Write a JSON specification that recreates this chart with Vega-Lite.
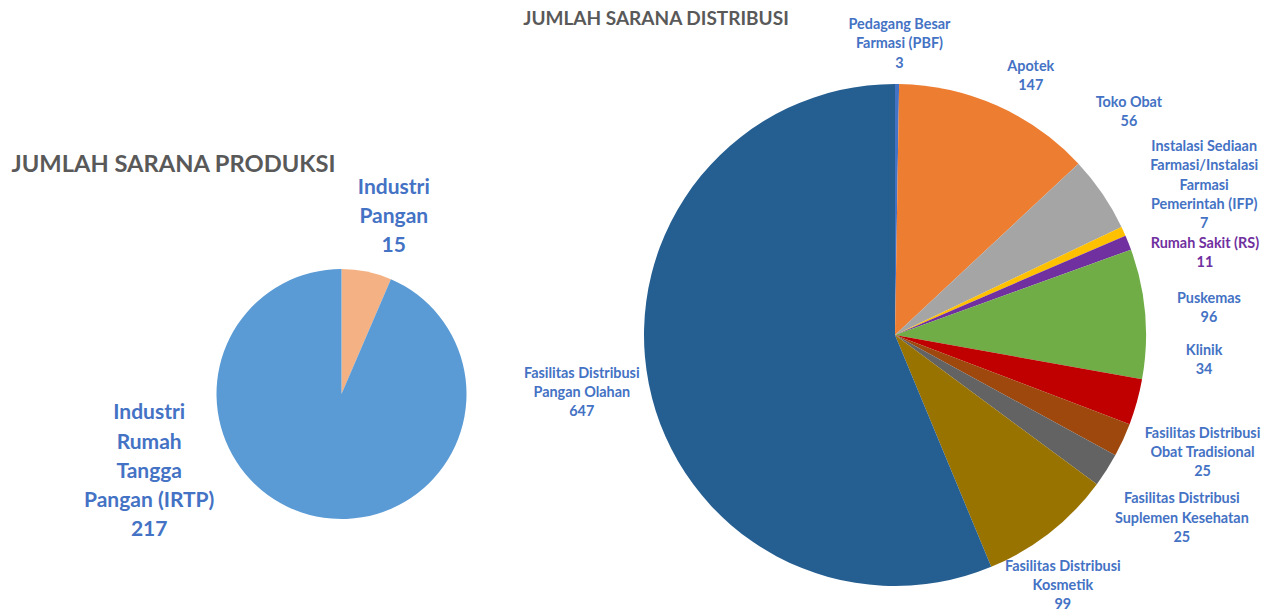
{
  "$schema": "https://vega.github.io/schema/vega-lite/v6.json",
  "width": 1269,
  "height": 614,
  "padding": 0,
  "autosize": {"type": "fit", "contains": "padding"},
  "background": "white",
  "config": {"view": {"stroke": null}},
  "datasets": {
    "distribusi": [
      {"grup": "Distribusi", "urut": 1, "nama": "Pedagang Besar Farmasi (PBF)", "label": "Pedagang Besar\nFarmasi (PBF)\n3", "jumlah": 3},
      {"grup": "Distribusi", "urut": 2, "nama": "Apotek", "label": "Apotek\n147", "jumlah": 147},
      {"grup": "Distribusi", "urut": 3, "nama": "Toko Obat", "label": "Toko Obat\n56", "jumlah": 56},
      {"grup": "Distribusi", "urut": 4, "nama": "Instalasi Sediaan Farmasi/Instalasi Farmasi Pemerintah (IFP)", "label": "Instalasi Sediaan\nFarmasi/Instalasi\nFarmasi\nPemerintah (IFP)\n7", "jumlah": 7},
      {"grup": "Distribusi", "urut": 5, "nama": "Rumah Sakit (RS)", "label": "Rumah Sakit (RS)\n11", "jumlah": 11},
      {"grup": "Distribusi", "urut": 6, "nama": "Puskemas", "label": "Puskemas\n96", "jumlah": 96},
      {"grup": "Distribusi", "urut": 7, "nama": "Klinik", "label": "Klinik\n34", "jumlah": 34},
      {"grup": "Distribusi", "urut": 8, "nama": "Fasilitas Distribusi Obat Tradisional", "label": "Fasilitas Distribusi\nObat Tradisional\n25", "jumlah": 25},
      {"grup": "Distribusi", "urut": 9, "nama": "Fasilitas Distribusi Suplemen Kesehatan", "label": "Fasilitas Distribusi\nSuplemen Kesehatan\n25", "jumlah": 25},
      {"grup": "Distribusi", "urut": 10, "nama": "Fasilitas Distribusi Kosmetik", "label": "Fasilitas Distribusi\nKosmetik\n99", "jumlah": 99},
      {"grup": "Distribusi", "urut": 11, "nama": "Fasilitas Distribusi Pangan Olahan", "label": "Fasilitas Distribusi\nPangan Olahan\n647", "jumlah": 647}
    ],
    "produksi": [
      {"grup": "Produksi", "urut": 1, "nama": "Industri Pangan", "label": "Industri\nPangan\n15", "jumlah": 15},
      {"grup": "Produksi", "urut": 2, "nama": "Industri Rumah Tangga Pangan (IRTP)", "label": "Industri\nRumah\nTangga\nPangan (IRTP)\n217", "jumlah": 217}
    ],
    "judul": [
      {"grup": "Produksi", "judul": "JUMLAH SARANA PRODUKSI"},
      {"grup": "Distribusi", "judul": "JUMLAH SARANA DISTRIBUSI"}
    ]
  },
  "layer": [
    {
      "data": {"name": "distribusi"},
      "encoding": {
        "x": {"field": "grup", "type": "nominal", "scale": {"type": "point", "domain": ["Produksi", "Distribusi"], "range": [341.5, 895], "padding": 0}, "axis": null},
        "y": {"field": "grup", "type": "nominal", "scale": {"type": "point", "domain": ["Produksi", "Distribusi"], "range": [394, 335], "padding": 0}, "axis": null}
      },
      "layer": [
        {
          "mark": {"type": "arc", "outerRadius": 251},
          "encoding": {
            "theta": {"field": "jumlah", "type": "quantitative", "stack": true, "scale": {"domain": [0, 1150]}},
            "order": {"field": "urut", "type": "quantitative", "sort": "ascending"},
            "color": {
              "field": "nama", "type": "nominal", "legend": null,
              "scale": {
                "domain": ["Pedagang Besar Farmasi (PBF)", "Apotek", "Toko Obat", "Instalasi Sediaan Farmasi/Instalasi Farmasi Pemerintah (IFP)", "Rumah Sakit (RS)", "Puskemas", "Klinik", "Fasilitas Distribusi Obat Tradisional", "Fasilitas Distribusi Suplemen Kesehatan", "Fasilitas Distribusi Kosmetik", "Fasilitas Distribusi Pangan Olahan"],
                "range": ["#4472C4", "#ED7D31", "#A5A5A5", "#FFC000", "#7030A0", "#70AD47", "#C00000", "#9E480E", "#636363", "#997300", "#255E91"]
              }
            }
          }
        },
        {
          "transform": [
            {"stack": "jumlah", "groupby": ["grup"], "sort": [{"field": "urut", "order": "ascending"}], "as": ["s0", "s1"]},
            {"fold": ["s0", "s1"], "as": ["ujung", "sudut"]},
            {"aggregate": [{"op": "mean", "field": "sudut", "as": "tengah"}], "groupby": ["grup", "urut", "nama", "label"]}
          ],
          "encoding": {
            "theta": {"field": "tengah", "type": "quantitative", "scale": {"domain": [0, 1150]}},
            "text": {"field": "label", "type": "nominal"}
          },
          "layer": [
            {"transform": [{"filter": {"field": "urut", "equal": 1}}], "mark": {"type": "text", "radius": 300, "dx": 2, "dy": -10, "lineBreak": "\n", "lineHeight": 19.3, "font": "Lato", "fontSize": 14.4, "fontWeight": "bold", "color": "#4472C4", "align": "center", "baseline": "middle"}},
            {"transform": [{"filter": {"field": "urut", "equal": 2}}], "mark": {"type": "text", "radius": 300, "dx": 14, "dy": 6, "lineBreak": "\n", "lineHeight": 19.3, "font": "Lato", "fontSize": 14.4, "fontWeight": "bold", "color": "#4472C4", "align": "center", "baseline": "middle"}},
            {"transform": [{"filter": {"field": "urut", "equal": 3}}], "mark": {"type": "text", "radius": 300, "dx": -14, "dy": -63, "lineBreak": "\n", "lineHeight": 19.3, "font": "Lato", "fontSize": 14.4, "fontWeight": "bold", "color": "#4472C4", "align": "center", "baseline": "middle"}},
            {"transform": [{"filter": {"field": "urut", "equal": 4}}], "mark": {"type": "text", "radius": 300, "dx": 36, "dy": -64, "lineBreak": "\n", "lineHeight": 19.3, "font": "Lato", "fontSize": 14.4, "fontWeight": "bold", "color": "#4472C4", "align": "center", "baseline": "middle"}},
            {"transform": [{"filter": {"field": "urut", "equal": 5}}], "mark": {"type": "text", "radius": 300, "dx": 31, "dy": 19, "lineBreak": "\n", "lineHeight": 19.3, "font": "Lato", "fontSize": 14.4, "fontWeight": "bold", "color": "#7030A0", "align": "center", "baseline": "middle"}},
            {"transform": [{"filter": {"field": "urut", "equal": 6}}], "mark": {"type": "text", "radius": 300, "dx": 15, "dy": -11, "lineBreak": "\n", "lineHeight": 19.3, "font": "Lato", "fontSize": 14.4, "fontWeight": "bold", "color": "#4472C4", "align": "center", "baseline": "middle"}},
            {"transform": [{"filter": {"field": "urut", "equal": 7}}], "mark": {"type": "text", "radius": 300, "dx": 20, "dy": -64, "lineBreak": "\n", "lineHeight": 19.3, "font": "Lato", "fontSize": 14.4, "fontWeight": "bold", "color": "#4472C4", "align": "center", "baseline": "middle"}},
            {"transform": [{"filter": {"field": "urut", "equal": 8}}], "mark": {"type": "text", "radius": 300, "dx": 35, "dy": -27, "lineBreak": "\n", "lineHeight": 19.3, "font": "Lato", "fontSize": 14.4, "fontWeight": "bold", "color": "#4472C4", "align": "center", "baseline": "middle"}},
            {"transform": [{"filter": {"field": "urut", "equal": 9}}], "mark": {"type": "text", "radius": 300, "dx": 34, "dy": 3, "lineBreak": "\n", "lineHeight": 19.3, "font": "Lato", "fontSize": 14.4, "fontWeight": "bold", "color": "#4472C4", "align": "center", "baseline": "middle"}},
            {"transform": [{"filter": {"field": "urut", "equal": 10}}], "mark": {"type": "text", "radius": 300, "dx": -17, "dy": -4, "lineBreak": "\n", "lineHeight": 19, "font": "Lato", "fontSize": 14.4, "fontWeight": "bold", "color": "#4472C4", "align": "center", "baseline": "middle"}},
            {"transform": [{"filter": {"field": "urut", "equal": 11}}], "mark": {"type": "text", "radius": 300, "dx": -19, "dy": -20, "lineBreak": "\n", "lineHeight": 19.3, "font": "Lato", "fontSize": 14.4, "fontWeight": "bold", "color": "#4472C4", "align": "center", "baseline": "middle"}}
          ]
        }
      ]
    },
    {
      "data": {"name": "produksi"},
      "encoding": {
        "x": {"field": "grup", "type": "nominal", "scale": {"type": "point", "domain": ["Produksi", "Distribusi"], "range": [341.5, 895], "padding": 0}, "axis": null},
        "y": {"field": "grup", "type": "nominal", "scale": {"type": "point", "domain": ["Produksi", "Distribusi"], "range": [394, 335], "padding": 0}, "axis": null}
      },
      "layer": [
        {
          "mark": {"type": "arc", "outerRadius": 125},
          "encoding": {
            "theta": {"field": "jumlah", "type": "quantitative", "stack": true, "scale": {"domain": [0, 232]}},
            "order": {"field": "urut", "type": "quantitative", "sort": "ascending"},
            "color": {
              "field": "nama", "type": "nominal", "legend": null,
              "scale": {"domain": ["Industri Pangan", "Industri Rumah Tangga Pangan (IRTP)"], "range": ["#F4B183", "#5B9BD5"]}
            }
          }
        },
        {
          "transform": [
            {"stack": "jumlah", "groupby": ["grup"], "sort": [{"field": "urut", "order": "ascending"}], "as": ["s0", "s1"]},
            {"fold": ["s0", "s1"], "as": ["ujung", "sudut"]},
            {"aggregate": [{"op": "mean", "field": "sudut", "as": "tengah"}], "groupby": ["grup", "urut", "nama", "label"]}
          ],
          "encoding": {
            "theta": {"field": "tengah", "type": "quantitative", "scale": {"domain": [0, 232]}},
            "text": {"field": "label", "type": "nominal"}
          },
          "layer": [
            {"transform": [{"filter": {"field": "urut", "equal": 1}}], "mark": {"type": "text", "radius": 180, "dx": 16, "dy": -30, "lineBreak": "\n", "lineHeight": 29.3, "font": "Lato", "fontSize": 21, "fontWeight": "bold", "color": "#4472C4", "align": "center", "baseline": "middle"}},
            {"transform": [{"filter": {"field": "urut", "equal": 2}}], "mark": {"type": "text", "radius": 180, "dx": -156, "dy": -157, "lineBreak": "\n", "lineHeight": 29.3, "font": "Lato", "fontSize": 21, "fontWeight": "bold", "color": "#4472C4", "align": "center", "baseline": "middle"}}
          ]
        }
      ]
    },
    {
      "data": {"name": "judul"},
      "encoding": {
        "x": {"field": "grup", "type": "nominal", "scale": {"type": "point", "domain": ["Produksi", "Distribusi"], "range": [341.5, 895], "padding": 0}, "axis": null},
        "y": {"field": "grup", "type": "nominal", "scale": {"type": "point", "domain": ["Produksi", "Distribusi"], "range": [394, 335], "padding": 0}, "axis": null},
        "text": {"field": "judul", "type": "nominal"}
      },
      "layer": [
        {"transform": [{"filter": {"field": "grup", "equal": "Produksi"}}], "mark": {"type": "text", "align": "left", "baseline": "middle", "dx": -330, "dy": -229, "font": "Lato", "fontSize": 23.7, "fontWeight": "bold", "color": "#595959"}},
        {"transform": [{"filter": {"field": "grup", "equal": "Distribusi"}}], "mark": {"type": "text", "align": "center", "baseline": "middle", "dx": -239, "dy": -316, "font": "Lato", "fontSize": 19, "fontWeight": "bold", "color": "#595959"}}
      ]
    }
  ],
  "resolve": {"scale": {"theta": "independent", "color": "independent"}}
}
